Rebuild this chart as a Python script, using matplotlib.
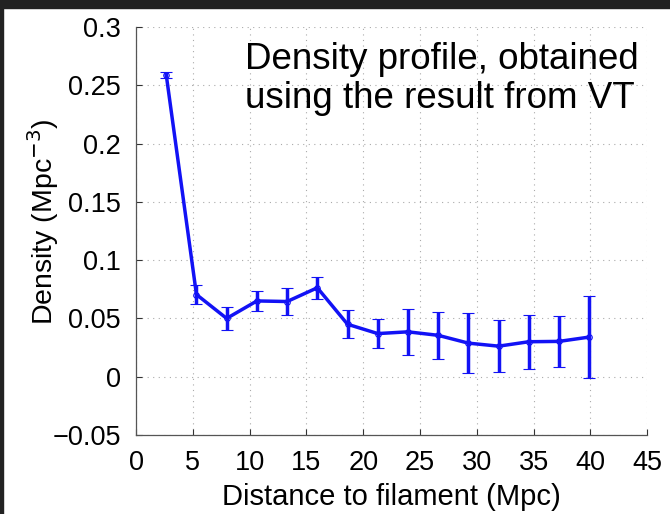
import matplotlib
matplotlib.use("Agg")
from matplotlib import pyplot as plt
from matplotlib.patches import Rectangle

# Density profile vs distance to filament
distance = [2.66, 5.32, 7.98, 10.64, 13.30, 15.96, 18.62, 21.28,
            23.94, 26.60, 29.26, 31.92, 34.58, 37.24, 39.90]
density = [0.259, 0.0705, 0.050, 0.065, 0.0645, 0.0763, 0.045, 0.0370,
           0.0385, 0.0355, 0.0288, 0.0262, 0.0300, 0.0303, 0.0340]
density_err = [0.0025, 0.0083, 0.0100, 0.0083, 0.0118, 0.0093, 0.0122, 0.0121,
               0.0196, 0.0199, 0.0256, 0.0222, 0.0232, 0.0218, 0.0352]

x_ticks = [0, 5, 10, 15, 20, 25, 30, 35, 40, 45]
y_ticks = [-0.05, 0, 0.05, 0.1, 0.15, 0.2, 0.25, 0.3]
y_tick_labels = ["\u22120.05", "0", "0.05", "0.1", "0.15", "0.2", "0.25", "0.3"]

plt.rcParams.update({
    "font.family": ["Liberation Sans", "DejaVu Sans"],
    "axes.unicode_minus": True,
})

line_color = "#1212f5"

fig = plt.figure(figsize=(6.7, 5.14), dpi=100)
ax = fig.add_axes([0.203, 0.1537, 0.763, 0.7938])

ax.errorbar(distance, density, yerr=density_err, color=line_color,
            linewidth=2.5, elinewidth=2.5, capsize=4, capthick=2.5,
            marker="o", markersize=4, markerfacecolor="none",
            markeredgewidth=0.8, zorder=3)

ax.set_xlim(0, 45)
ax.set_ylim(-0.05, 0.3)
ax.set_xticks(x_ticks)
ax.set_yticks(y_ticks)
ax.set_yticklabels(y_tick_labels)
ax.tick_params(direction="in", length=4, width=0.8, labelsize=19.5,
               colors="#333333", labelcolor="black", pad=11)

ax.grid(True, linestyle=(0, (1, 4)), color="#aaaaaa", linewidth=0.8)
ax.spines["top"].set_visible(False)
ax.spines["right"].set_visible(False)
for side in ["left", "bottom"]:
    ax.spines[side].set_color("#555555")
    ax.spines[side].set_linewidth(0.9)

ax.set_xlabel("Distance to filament (Mpc)", fontsize=21, labelpad=5)
ax.set_ylabel("Density (Mpc$^{-3}$)", fontsize=20.5)
ax.yaxis.set_label_coords(-0.147, 0.522)

fig.text(0.366, 0.918, "Density profile, obtained\nusing the result from VT",
         fontsize=26.5, ha="left", va="top", multialignment="left",
         linespacing=1.13)

# dark frame strips at the top and left edge of the screenshot
fig.patches.append(Rectangle((0, 1 - 8 / 514), 1, 8 / 514, transform=fig.transFigure,
                             color="#222222", zorder=10))
fig.patches.append(Rectangle((0, 0), 3 / 670, 1, transform=fig.transFigure,
                             color="#222222", zorder=10))

plt.savefig("out.png", dpi=100)
